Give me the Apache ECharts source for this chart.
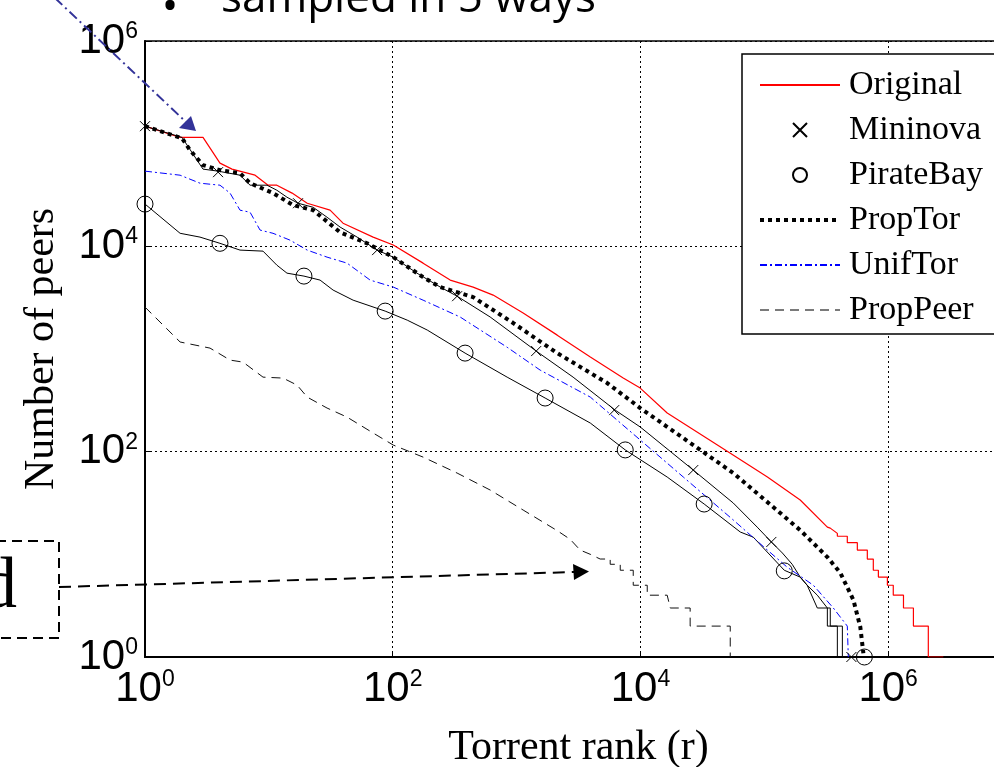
<!DOCTYPE html>
<html><head><meta charset="utf-8">
<script src="https://cdn.jsdelivr.net/npm/echarts@6/dist/echarts.min.js"></script>
<style>html,body{margin:0;padding:0;background:#fff;overflow:hidden}#c{width:994px;height:767px}</style>
</head><body><div id="c"></div>
<script>
const seriesNames = ['Original', 'Mininova', 'PirateBay', 'PropTor', 'UnifTor', 'PropPeer'];
const tickExponents = [0, 2, 4, 6];
const xAxisTitle = 'Torrent rank (r)';
const yAxisTitle = 'Number of peers';
const titleText = 'sampled in 5 ways';
const boxText = 'd';

const original = [
  [1,148000],[1.92,115000],[2.94,115000],[4.03,64600],[5.04,56500],[7.74,49300],[9.86,39400],[11.6,39400],
  [15.4,33000],[20.4,26300],[31.2,22500],[39.7,16800],[69.5,12300],[101,10300],[176,6860],[291,4690],
  [446,4010],[647,3350],[1130,2240],[2130,1365],[3940,834],[7260,521],[9960,416],[16450,238],[50200,101],
  [106000,56.6],[195000,33.8],[323000,18.4],[341000,18],[389000,16],[389000,15],[468000,15],[468000,13],
  [564000,13],[564000,11],[679000,11],[679000,9],[759000,9],[759000,7],[834000,7],[834000,6],[986000,6],
  [986000,5],[1100000,5],[1100000,4],[1330000,4],[1330000,3],[1600000,3],[1600000,2],[2110000,2],
  [2110000,1],[2790000,1]
];
const mininovaLine = [
  [1,148000],[1.99,115000],[2.94,56500],[3.89,54000],[5.85,49300],[7.05,39400],[9.67,39400],[11.6,35200],
  [14.0,30100],[17.2,26300],[22.8,24000],[29.5,19200],[37.6,15400],[51.6,12300],[74.8,9190],[101,7850],
  [157,5480],[242,4010],[331,3270],[612,2050],[1440,955],[2860,532],[6250,254],[9960,174],[26700,66.2],
  [56200,31.6],[87700,18.4],[114000,13.2],[140000,10.3],[168000,8],[195000,6],[222000,5],[268000,4],
  [323000,3],[323000,2],[389000,2],[389000,1],[505000,1]
];
const mininovaMarks = [
  [1,148000],[3.89,52800],[17.2,26300],[74.8,9190],[331,3270],[1440,955],[6140,254],[26700,66.2],
  [114000,13.2],[505000,1]
];
const pirateBayLine = [
  [1,25800],[1.92,13400],[2.78,12300],[4.03,10700],[5.85,9190],[8.97,8980],[11.6,6560],[14.0,5480],
  [19.2,5130],[25.9,4690],[33.0,3750],[47.9,2990],[86.9,2340],[131,1910],[190,1530],[384,912],[839,532],
  [1700,333],[3940,190],[7540,104],[16450,56.6],[32700,30.9],[64000,16.5],[81500,14.7],[145000,7],
  [195000,6],[222000,5],[268000,3],[341000,3],[341000,2],[427000,2],[427000,1],[643000,1]
];
const pirateBayMarks = [
  [1,25800],[4.03,10700],[19.2,5130],[86.9,2340],[384,912],[1700,333],[7540,104],[32700,30.9],
  [145000,6.9],[643000,1]
];
const propTor = [
  [1,148000],[1.99,113000],[2.31,86500],[2.94,61800],[4.03,55200],[5.85,51600],[7.05,41200],[10.8,33000],
  [15.7,25200],[22.8,22500],[37.6,13700],[62.1,10700],[101,7850],[176,5010],[242,4010],[446,3200],
  [940,1790],[2130,912],[5390,466],[9960,266],[30400,104],[56200,61.9],[118000,28.9],[195000,17.2],
  [323000,9.4],[411000,6.6],[524000,3.6],[596000,1.96],[631000,1.09]
];
const unifTor = [
  [1,54000],[1.92,49300],[2.78,41200],[4.03,39400],[4.86,33000],[5.85,22500],[7.05,21500],[8.49,14400],
  [10.8,13400],[14.8,11500],[20.4,9190],[29.5,7850],[42.8,6860],[65.7,4690],[101,4010],[176,2990],
  [350,2050],[839,1040],[1550,623],[3940,340],[9960,130],[22200,56.6],[56200,21.6],[106000,11],
  [153000,7.5],[249000,5],[361000,3],[468000,2],[477000,1]
];
const propPeer = [
  [1,2560],[1.92,1170],[3.35,1020],[4.86,780],[6.19,745],[8.97,532],[13.0,521],[16.9,445],[20.4,340],
  [29.5,266],[42.8,217],[69.5,152],[101,116],[176,88.5],[331,61.9],[612,42.3],[1130,27],[2130,17],
  [2710,14],[3260,11],[3940,10],[4730,9],[5700,9],[5700,8],[6870,8],[6870,7],[8750,7],[8750,5],
  [11350,5],[11350,4],[16450,4],[17400,3],[25200,3],[25200,2],[53100,2],[53100,1]
];

function tickFmt(v) {
  const e = Math.round(Math.log10(v));
  return tickExponents.includes(e) ? '{b|10}{e|' + e + '}' : '';
}
const richTick = {
  b: { fontFamily: 'Liberation Sans', fontSize: 42, lineHeight: 42, padding: [13, 0, 13, 0], color: '#000' },
  e: { fontFamily: 'Liberation Sans', fontSize: 23, lineHeight: 23, verticalAlign: 'top', color: '#000' }
};
const gridLine = { show: true, lineStyle: { color: '#000', width: 1, type: [2, 3] } };
const xMark = 'path://M0,0L10,10M0,10L10,0';
const hiddenSymbol = { color: 'transparent', borderColor: 'transparent', borderWidth: 0, opacity: 0 };

const chart = echarts.init(document.getElementById('c'), null, { renderer: 'canvas' });
chart.setOption({
  animation: false,
  backgroundColor: '#fff',
  grid: { left: 145, top: 41, width: 867, height: 616, show: true, borderColor: '#000', borderWidth: 1.5, backgroundColor: 'transparent', containLabel: false, outerBoundsMode: 'none' },
  xAxis: {
    type: 'log', logBase: 10, min: 1, max: 1e7, interval: 2,
    name: xAxisTitle, nameLocation: 'middle', nameGap: 70, nameMoveOverlap: false,
    nameTextStyle: { fontFamily: 'Liberation Serif', fontSize: 42, color: '#000' },
    axisLine: { show: true, lineStyle: { color: '#000', width: 2 } },
    axisTick: { show: true, inside: true, length: 6, lineStyle: { color: '#000' } },
    minorTick: { show: false },
    axisLabel: { formatter: tickFmt, rich: richTick, margin: 11, showMaxLabel: false, hideOverlap: false },
    splitLine: gridLine
  },
  yAxis: {
    type: 'log', logBase: 10, min: 1, max: 1e6, interval: 2,
    name: yAxisTitle, nameLocation: 'middle', nameGap: 82, nameRotate: 90, nameMoveOverlap: false,
    nameTextStyle: { fontFamily: 'Liberation Serif', fontSize: 42, color: '#000' },
    axisLine: { show: true, lineStyle: { color: '#000', width: 2 } },
    axisTick: { show: true, inside: true, length: 6, lineStyle: { color: '#000' } },
    minorTick: { show: false },
    axisLabel: { formatter: tickFmt, rich: richTick, margin: 7, hideOverlap: false },
    splitLine: gridLine
  },
  legend: {
    data: [
      { name: 'Original', itemStyle: hiddenSymbol },
      { name: 'Mininova' },
      { name: 'PirateBay' },
      { name: 'PropTor', itemStyle: hiddenSymbol, lineStyle: { width: 4, type: [4, 4], color: '#000' } },
      { name: 'UnifTor', itemStyle: hiddenSymbol },
      { name: 'PropPeer', itemStyle: hiddenSymbol, lineStyle: { color: '#7a7a7a' } }
    ],
    orient: 'vertical', left: 742, top: 54,
    itemWidth: 80, itemHeight: 14, itemGap: 11,
    padding: [14, 12, 7, 16],
    borderColor: '#000', borderWidth: 1.5, borderRadius: 0, backgroundColor: '#fff',
    selectedMode: false,
    textStyle: { fontFamily: 'Liberation Serif', fontSize: 34, lineHeight: 34, color: '#000', padding: [0, 0, 0, 4] }
  },
  series: [
    { name: 'Original', type: 'line', data: original, symbol: 'none', lineStyle: { color: '#ff0000', width: 1.2 }, itemStyle: { color: '#ff0000' }, z: 2 },
    { name: 'Mininova line', type: 'line', data: mininovaLine, symbol: 'none', lineStyle: { color: '#000', width: 1 }, itemStyle: { color: '#000' }, z: 3 },
    { name: 'PirateBay line', type: 'line', data: pirateBayLine, symbol: 'none', lineStyle: { color: '#000', width: 1 }, itemStyle: { color: '#000' }, z: 3 },
    { name: 'Mininova', type: 'scatter', data: mininovaMarks, symbol: xMark, symbolSize: 10, itemStyle: { color: 'transparent', borderColor: '#000', borderWidth: 1, opacity: 1 }, z: 5 },
    { name: 'PirateBay', type: 'scatter', data: pirateBayMarks, symbol: 'circle', symbolSize: 16, itemStyle: { color: 'transparent', borderColor: '#000', borderWidth: 1, opacity: 1 }, z: 5 },
    { name: 'PropTor', type: 'line', data: propTor, symbol: 'none', lineStyle: { color: '#000', width: 4, type: [4, 4] }, itemStyle: { color: '#000' }, z: 4 },
    { name: 'UnifTor', type: 'line', data: unifTor, symbol: 'none', lineStyle: { color: '#0000ff', width: 1, type: [7, 3, 2, 3] }, itemStyle: { color: '#0000ff' }, z: 3 },
    { name: 'PropPeer', type: 'line', data: propPeer, symbol: 'none', lineStyle: { color: '#111', width: 1, type: [9, 6] }, itemStyle: { color: '#111' }, z: 3 }
  ],
  graphic: [
    { type: 'text', z: 100, style: { text: '\u2022', x: 170, y: 8, fontFamily: 'Open Sans', fontSize: 44, fill: '#000', textAlign: 'center', textVerticalAlign: 'middle' } },
    { type: 'text', z: 100, style: { text: titleText, x: 221, y: -1, fontFamily: 'Open Sans', fontSize: 44, fill: '#000', textAlign: 'left', textVerticalAlign: 'middle' } },
    { type: 'line', z: 100, shape: { x1: 55, y1: -2, x2: 186, y2: 122 }, style: { stroke: '#333399', lineWidth: 2, lineDash: [10, 4, 2, 4] } },
    { type: 'polygon', z: 100, shape: { points: [[179, 128], [191, 116], [196, 131]] }, style: { fill: '#333399' } },
    { type: 'line', z: 100, shape: { x1: 59, y1: 587, x2: 575, y2: 572 }, style: { stroke: '#000', lineWidth: 2, lineDash: [12, 7] } },
    { type: 'polygon', z: 100, shape: { points: [[573, 564], [574, 580], [589, 571.5]] }, style: { fill: '#000' } },
    { type: 'rect', z: 100, shape: { x: -20, y: 541, width: 79, height: 97 }, style: { fill: 'none', stroke: '#000', lineWidth: 2, lineDash: [10, 6] } },
    { type: 'text', z: 100, style: { text: boxText, x: 17, y: 588, fontFamily: 'Liberation Serif', fontSize: 72, fill: '#000', textAlign: 'right', textVerticalAlign: 'middle' } }
  ]
});
</script>
</body></html>
